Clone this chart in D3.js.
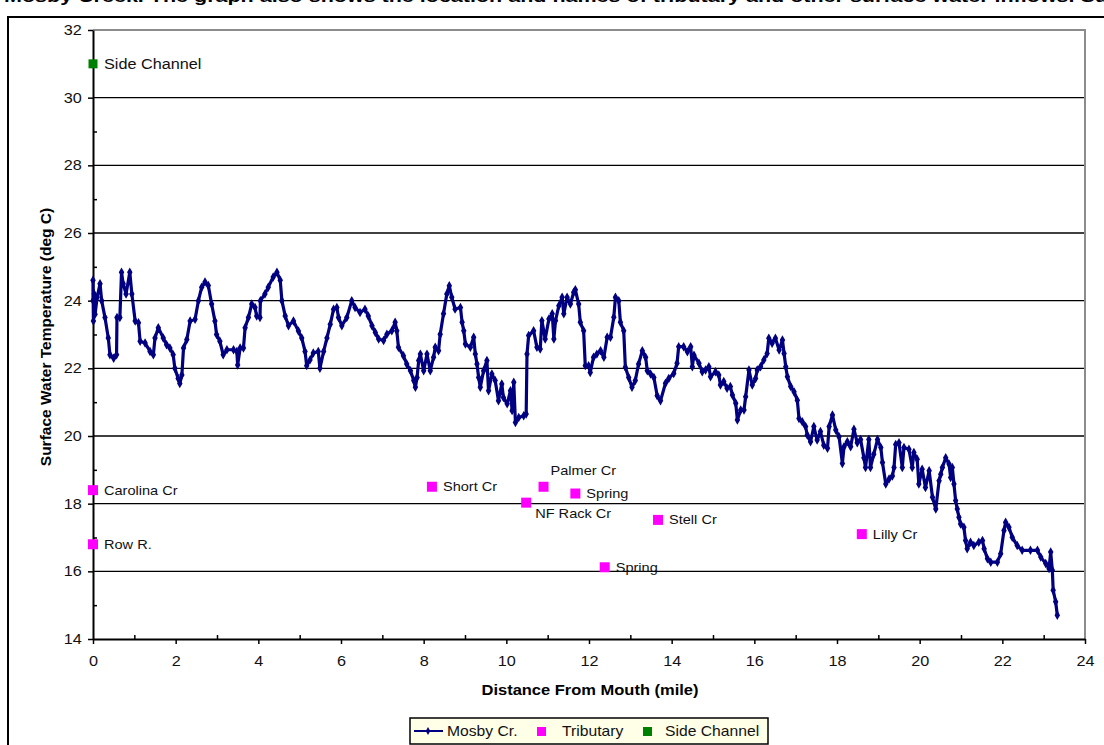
<!DOCTYPE html>
<html>
<head>
<meta charset="utf-8">
<script src="https://cdn.jsdelivr.net/npm/d3@7"></script>
<style>
  body { margin: 0; background: #fff; }
  svg { display: block; font-family: "Liberation Sans", Arial, sans-serif; }
</style>
</head>
<body>
<svg id="chart" width="1104" height="745"></svg>
<script>
// Mosby Cr. longitudinal profile: [distance from mouth (mile), temperature (deg C)]
var mosby = [
  [0,24.0],[0,24.6],[0.01,23.4],[0.03,24.2],[0.05,23.6],[0.1,24.1],[0.17,24.5],[0.21,24.0],[0.29,23.5],[0.37,22.9],
  [0.41,22.4],[0.5,22.3],[0.57,22.4],[0.58,23.5],[0.65,23.5],[0.69,24.84],[0.73,24.5],[0.8,24.2],[0.89,24.84],[0.94,24.2],
  [1.02,23.4],[1.1,23.35],[1.14,22.8],[1.26,22.75],[1.38,22.5],[1.46,22.4],[1.5,22.9],[1.58,23.2],[1.7,22.9],[1.78,22.7],
  [1.86,22.6],[1.94,22.4],[1.98,22.0],[2.06,21.7],[2.1,21.55],[2.15,21.8],[2.19,22.6],[2.27,22.85],[2.35,23.4],[2.47,23.45],
  [2.55,24.0],[2.63,24.4],[2.71,24.55],[2.79,24.45],[2.87,23.9],[2.95,23.4],[2.99,23.0],[3.07,22.8],[3.15,22.4],[3.24,22.55],
  [3.4,22.55],[3.48,22.5],[3.5,22.1],[3.56,22.6],[3.64,22.6],[3.68,23.2],[3.76,23.5],[3.84,23.9],[3.92,23.8],[3.96,23.55],
  [4.04,23.5],[4.05,24.0],[4.16,24.2],[4.24,24.4],[4.36,24.7],[4.45,24.84],[4.53,24.6],[4.57,24.0],[4.65,23.55],[4.73,23.26],
  [4.85,23.4],[4.97,23.1],[5.05,22.9],[5.13,22.5],[5.17,22.08],[5.25,22.25],[5.33,22.45],[5.45,22.5],[5.49,22.0],[5.58,22.5],
  [5.66,22.9],[5.74,23.3],[5.82,23.75],[5.9,23.8],[5.94,23.5],[6.02,23.26],[6.14,23.5],[6.26,24.0],[6.34,23.8],[6.46,23.65],
  [6.58,23.75],[6.66,23.55],[6.75,23.26],[6.83,23.06],[6.91,22.87],[7.03,22.82],[7.11,23.01],[7.23,23.11],[7.31,23.36],[7.35,23.11],
  [7.39,22.62],[7.51,22.37],[7.59,22.13],[7.68,21.93],[7.76,21.64],[7.8,21.44],[7.84,21.73],[7.88,22.23],[7.92,22.42],[8.0,21.93],
  [8.08,22.42],[8.16,21.93],[8.24,22.33],[8.28,22.62],[8.36,22.52],[8.4,23.01],[8.48,23.61],[8.56,24.2],[8.62,24.44],[8.68,24.1],
  [8.76,23.75],[8.89,23.8],[8.93,23.36],[8.97,23.11],[9.01,22.72],[9.13,22.62],[9.21,22.92],[9.25,22.42],[9.29,22.13],[9.33,21.73],
  [9.37,21.44],[9.45,21.93],[9.53,22.23],[9.57,21.34],[9.65,21.83],[9.73,21.64],[9.81,21.04],[9.89,21.54],[9.93,21.14],[10.02,20.95],
  [10.1,21.34],[10.14,20.75],[10.18,21.59],[10.22,20.4],[10.3,20.55],[10.42,20.6],[10.48,20.65],[10.5,22.42],[10.54,22.97],[10.66,23.11],
  [10.74,22.62],[10.82,22.57],[10.86,23.41],[10.94,22.87],[11.03,23.46],[11.11,23.61],[11.15,22.87],[11.19,23.41],[11.27,23.85],[11.35,24.1],
  [11.39,23.61],[11.47,24.1],[11.55,23.9],[11.63,24.25],[11.67,24.32],[11.75,23.9],[11.79,23.36],[11.87,23.11],[11.91,22.08],[11.99,22.08],
  [12.03,21.88],[12.11,22.33],[12.19,22.42],[12.28,22.52],[12.36,22.33],[12.44,22.92],[12.52,22.92],[12.6,23.51],[12.64,24.1],[12.72,24.0],
  [12.76,23.36],[12.84,23.11],[12.88,22.03],[12.96,21.73],[13.04,21.44],[13.12,21.64],[13.2,22.13],[13.29,22.52],[13.37,22.33],[13.41,21.93],
  [13.49,21.83],[13.57,21.73],[13.65,21.19],[13.73,21.04],[13.85,21.56],[13.93,21.7],[14.05,21.85],[14.13,22.15],[14.17,22.64],[14.29,22.64],
  [14.38,22.49],[14.46,22.64],[14.5,22.05],[14.54,22.39],[14.66,22.15],[14.74,21.9],[14.82,21.95],[14.9,22.05],[14.94,21.75],[15.06,21.9],
  [15.14,21.8],[15.18,21.51],[15.26,21.61],[15.34,21.41],[15.42,21.46],[15.47,21.21],[15.55,20.97],[15.59,20.47],[15.67,20.77],[15.75,20.77],
  [15.79,21.16],[15.87,21.95],[15.95,21.51],[16.03,21.7],[16.07,21.95],[16.15,22.05],[16.23,22.25],[16.31,22.44],[16.35,22.89],[16.43,22.74],
  [16.51,22.89],[16.6,22.54],[16.68,22.84],[16.72,22.44],[16.76,22.05],[16.8,21.75],[16.88,21.46],[16.96,21.31],[17.04,21.06],[17.08,20.52],
  [17.16,20.42],[17.24,20.28],[17.28,20.03],[17.36,19.83],[17.44,20.28],[17.52,19.88],[17.6,20.13],[17.68,19.73],[17.77,19.64],[17.81,20.28],
  [17.89,20.62],[17.97,20.18],[18.05,19.98],[18.13,19.19],[18.17,19.68],[18.25,19.83],[18.33,19.68],[18.41,20.2],[18.49,19.8],[18.57,19.9],
  [18.65,19.36],[18.69,19.07],[18.77,19.9],[18.81,19.07],[18.89,19.46],[18.98,19.9],[19.06,19.66],[19.1,19.22],[19.18,18.58],[19.26,18.73],
  [19.34,18.82],[19.38,19.07],[19.42,19.75],[19.5,19.8],[19.58,19.07],[19.62,19.66],[19.74,19.61],[19.82,19.07],[19.86,19.51],[19.94,19.31],
  [19.98,18.58],[20.06,19.02],[20.14,18.48],[20.23,18.97],[20.31,18.19],[20.39,17.84],[20.47,18.68],[20.51,18.87],[20.55,19.07],[20.63,19.36],
  [20.71,19.17],[20.75,18.77],[20.79,19.07],[20.83,18.58],[20.87,18.09],[20.91,17.84],[20.95,17.6],[20.99,17.4],[21.07,17.3],[21.11,16.91],
  [21.15,16.67],[21.23,16.86],[21.31,16.76],[21.43,16.86],[21.52,16.91],[21.56,16.67],[21.64,16.37],[21.72,16.27],[21.88,16.27],[21.96,16.52],
  [22.04,17.21],[22.08,17.45],[22.16,17.3],[22.24,17.01],[22.36,16.76],[22.48,16.62],[22.68,16.62],[22.85,16.62],[22.93,16.42],[23.05,16.23],
  [23.13,16.08],[23.17,16.57],[23.21,16.03],[23.23,15.44],[23.29,15.1],[23.33,14.7]
];

// tributary inflows
var tribNames = ["Carolina Cr", "Row R.", "Short Cr", "Palmer Cr", "NF Rack Cr", "Spring", "Stell Cr", "Spring", "Lilly Cr"];
var tribMiles = [0, 0, 8.2, 10.9, 10.48, 11.67, 13.67, 12.38, 18.6];
var tribTemps = [18.4, 16.8, 18.5, 18.5, 18.03, 18.3, 17.52, 16.12, 17.1];

// side channel inflow
var sideNames = ["Side Channel"];
var sideMiles = [0];
var sideTemps = [31.0];

var xTicks = d3.range(0, 25, 2);
var yTicks = d3.range(14, 33, 2);
var legendItems = ["Mosby Cr.", "Tributary", "Side Channel"];

var SX = 1.12; // the source rendering is a little wide
var svg = d3.select("#chart");
var W = 1104, H = 745;

svg.append("rect").attr("width", W).attr("height", H).attr("fill", "#fff");

// caption line from the page above, cut off by the crop
svg.append("text")
  .attr("x", 4).attr("y", 2)
  .attr("font-size", 16).attr("font-weight", "bold")
  .attr("textLength", 1104).attr("lengthAdjust", "spacingAndGlyphs")
  .text("Mosby Creek. The graph also shows the location and names of tributary and other surface water inflows. Su");

// outer frame
svg.append("rect")
  .attr("x", 8).attr("y", 17).attr("width", 1110).attr("height", 760)
  .attr("fill", "none").attr("stroke", "#000").attr("stroke-width", 2);

var x = d3.scaleLinear().domain([0, 24]).range([93, 1085]);
var y = d3.scaleLinear().domain([14, 32]).range([639, 30]);

// gridlines
svg.append("g").selectAll("line")
  .data(yTicks.filter(function (d) { return d > 14 && d < 32; }))
  .join("line")
  .attr("x1", x(0)).attr("x2", x(24))
  .attr("y1", function (d) { return y(d); }).attr("y2", function (d) { return y(d); })
  .attr("stroke", "#000").attr("stroke-width", 1.3);

// plot area border (top / right)
svg.append("path")
  .attr("d", "M" + x(0) + "," + y(32) + "H" + x(24) + "V" + y(14))
  .attr("fill", "none").attr("stroke", "#8c8c8c").attr("stroke-width", 2);

function styleAxis(g) {
  g.select(".domain").attr("stroke", "#000").attr("stroke-width", 2);
  g.selectAll(".tick line").attr("stroke", "#000").attr("stroke-width", 1.5);
  g.selectAll(".tick text")
    .attr("font-size", 14.5).attr("fill", "#111")
    .attr("font-family", "'Liberation Sans', Arial, sans-serif")
    .attr("transform", "scale(" + SX + ",1)");
}

// minor ticks (inside)
svg.append("g").attr("transform", "translate(" + x(0) + ",0)")
  .call(d3.axisRight(y).tickValues(d3.range(15, 32, 2)).tickSize(4).tickFormat("").tickSizeOuter(0))
  .call(function (g) { g.select(".domain").remove(); g.selectAll("line").attr("stroke", "#000").attr("stroke-width", 1.5); });
svg.append("g").attr("transform", "translate(0," + y(14) + ")")
  .call(d3.axisTop(x).tickValues(d3.range(1, 24, 2)).tickSize(4).tickFormat("").tickSizeOuter(0))
  .call(function (g) { g.select(".domain").remove(); g.selectAll("line").attr("stroke", "#000").attr("stroke-width", 1.5); });

// main axes
svg.append("g").attr("transform", "translate(" + x(0) + ",0)")
  .call(d3.axisLeft(y).tickValues(yTicks).tickSize(5).tickPadding(5).tickSizeOuter(0))
  .call(styleAxis);
svg.append("g").attr("transform", "translate(0," + y(14) + ")")
  .call(d3.axisBottom(x).tickValues(xTicks).tickSize(5).tickPadding(12).tickSizeOuter(0))
  .call(styleAxis);

// axis titles
svg.append("g").attr("transform", "translate(590,695) scale(1.1,1)")
  .append("text").attr("text-anchor", "middle")
  .attr("font-size", 15).attr("font-weight", "bold")
  .text("Distance From Mouth (mile)");
svg.append("text")
  .attr("transform", "translate(51,337) rotate(-90)")
  .attr("text-anchor", "middle")
  .attr("font-size", 15.5).attr("font-weight", "bold")
  .text("Surface Water Temperature (deg C)");

// Mosby Cr. line with its point markers
var line = d3.line()
  .x(function (d) { return x(d[0]); })
  .y(function (d) { return y(d[1]); });
svg.append("path").datum(mosby)
  .attr("d", line)
  .attr("fill", "none").attr("stroke", "#000080").attr("stroke-width", 3.2)
  .attr("stroke-linejoin", "round");
svg.append("g").selectAll("path")
  .data(mosby)
  .join("path")
  .attr("transform", function (d) { return "translate(" + x(d[0]) + "," + y(d[1]) + ")"; })
  .attr("d", d3.symbol(d3.symbolDiamond, 26))
  .attr("fill", "#000080");

function label(px, py, s, size) {
  svg.append("g").attr("transform", "translate(" + px + "," + py + ") scale(" + SX + ",1)")
    .append("text").attr("font-size", size).attr("fill", "#111").text(s);
}

// tributary markers
var placeAbove = { "Palmer Cr": true };
var placeBelow = { "NF Rack Cr": true };
tribNames.forEach(function (n, i) {
  var cx = x(tribMiles[i]), cy = y(tribTemps[i]);
  svg.append("rect")
    .attr("x", cx - 5).attr("y", cy - 5).attr("width", 10).attr("height", 10)
    .attr("fill", "#ff00ff");
  if (placeAbove[n]) label(cx + 7, cy - 12, n, 13);
  else if (placeBelow[n]) label(cx + 9, cy + 15, n, 13);
  else label(cx + 11, cy + 4.5, n, 13);
});

// side channel marker
sideNames.forEach(function (n, i) {
  var cx = x(sideMiles[i]), cy = y(sideTemps[i]);
  svg.append("rect")
    .attr("x", cx - 4.5).attr("y", cy - 4.5).attr("width", 9).attr("height", 9)
    .attr("fill", "#008000");
  label(cx + 11, cy + 5, n, 14.5);
});

// legend
var lg = svg.append("g");
lg.append("rect")
  .attr("x", 410).attr("y", 718).attr("width", 358).attr("height", 26)
  .attr("fill", "#ffffe8").attr("stroke", "#000").attr("stroke-width", 1.5);
lg.append("line")
  .attr("x1", 414).attr("x2", 443).attr("y1", 731).attr("y2", 731)
  .attr("stroke", "#000080").attr("stroke-width", 2);
lg.append("path")
  .attr("transform", "translate(428,731)")
  .attr("d", d3.symbol(d3.symbolDiamond, 18))
  .attr("fill", "#000080");
lg.append("rect").attr("x", 537).attr("y", 727).attr("width", 9).attr("height", 9).attr("fill", "#ff00ff");
lg.append("rect").attr("x", 643).attr("y", 727).attr("width", 9).attr("height", 9).attr("fill", "#008000");
[[447, legendItems[0]], [562, legendItems[1]], [665, legendItems[2]]].forEach(function (p) {
  lg.append("g").attr("transform", "translate(" + p[0] + ",736) scale(" + SX + ",1)")
    .append("text").attr("font-size", 14).attr("fill", "#111").text(p[1]);
});
</script>
</body>
</html>
